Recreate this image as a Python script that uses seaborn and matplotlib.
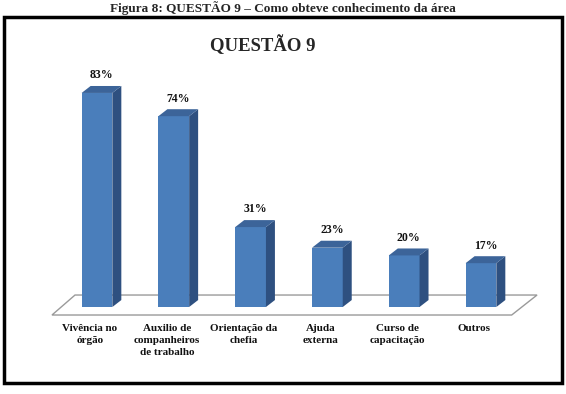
import matplotlib.pyplot as plt
import matplotlib.transforms as mtransforms
from matplotlib.patches import Polygon, Rectangle
import seaborn as sns
import pandas as pd

caption = 'Figura 8: QUESTÃO 9 – Como obteve conhecimento da área'
title = 'QUESTÃO 9'
categories = ['Vivência no\nórgão', 'Auxilio de\ncompanheiros\nde trabalho',
              'Orientação da\nchefia', 'Ajuda\nexterna',
              'Curso de\ncapacitação', 'Outros']
values = [83, 74, 31, 23, 20, 17]

front = '#4A7EBB'
side = '#2E5080'
top = '#3C6499'

sns.set_theme(style='white')
plt.rcParams['font.family'] = ['Liberation Serif', 'DejaVu Serif']

df = pd.DataFrame({'cat': categories, 'pct': values})

fig = plt.figure(figsize=(5.66, 3.94), dpi=100)
ax = fig.add_axes([40 / 566, 76 / 394, 520 / 566, 248 / 394])

sns.barplot(data=df, x='cat', y='pct', color=front, saturation=1, width=0.4,
            edgecolor='none', ax=ax)

ax.set_xlim(-0.742, 6.029)
ax.set_ylim(-4.26, 91.9)

# floor of the 3d chart
floor = Polygon([(-0.586, -3.1), (5.40, -3.1), (5.73, 4.65), (-0.286, 4.65)],
                closed=True, facecolor='white', edgecolor='#9a9a9a', lw=1.0,
                zorder=0.5)
ax.add_patch(floor)

# fake depth for the bars
dx, dy = 0.117, 2.7
for p, v in zip(ax.patches[:len(values)], values):
    x0 = p.get_x()
    w = p.get_width()
    h = p.get_height()
    ax.add_patch(Polygon([(x0 + w, 0), (x0 + w + dx, dy), (x0 + w + dx, h + dy), (x0 + w, h)],
                         closed=True, facecolor=side, edgecolor='none', zorder=3))
    ax.add_patch(Polygon([(x0, h), (x0 + w, h), (x0 + w + dx, h + dy), (x0 + dx, h + dy)],
                         closed=True, facecolor=top, edgecolor='none', zorder=3))
    p.set_zorder(3)
    ax.text(x0 + w / 2 + dx / 2, h + dy + 1.8, f'{v}%', ha='center', va='bottom',
            fontsize=8.5, fontweight='bold', color='#111111')

for s in ax.spines.values():
    s.set_visible(False)
ax.set_xlabel('')
ax.set_ylabel('')
ax.set_yticks([])
ax.tick_params(axis='x', length=0, pad=4.5)
offset = mtransforms.ScaledTranslation(-7 / 100, 0, fig.dpi_scale_trans)
for lbl in ax.get_xticklabels():
    lbl.set_fontsize(8)
    lbl.set_fontweight('bold')
    lbl.set_linespacing(1.4)
    lbl.set_color('#111111')
    lbl.set_transform(lbl.get_transform() + offset)

# frame and titles
fig.patches.append(Rectangle((4 / 566, 11 / 394), 558 / 566, 366 / 394,
                             transform=fig.transFigure, fill=False,
                             edgecolor='black', lw=2.5))
fig.text(263 / 566, 1 - 45 / 394, title, ha='center', va='center',
         fontsize=13.5, fontweight='bold')
fig.text(0.5, 1 - 1 / 394, caption, ha='center', va='top',
         fontsize=9.5, fontweight='bold')

fig.savefig('out.png', dpi=100, facecolor='white')
